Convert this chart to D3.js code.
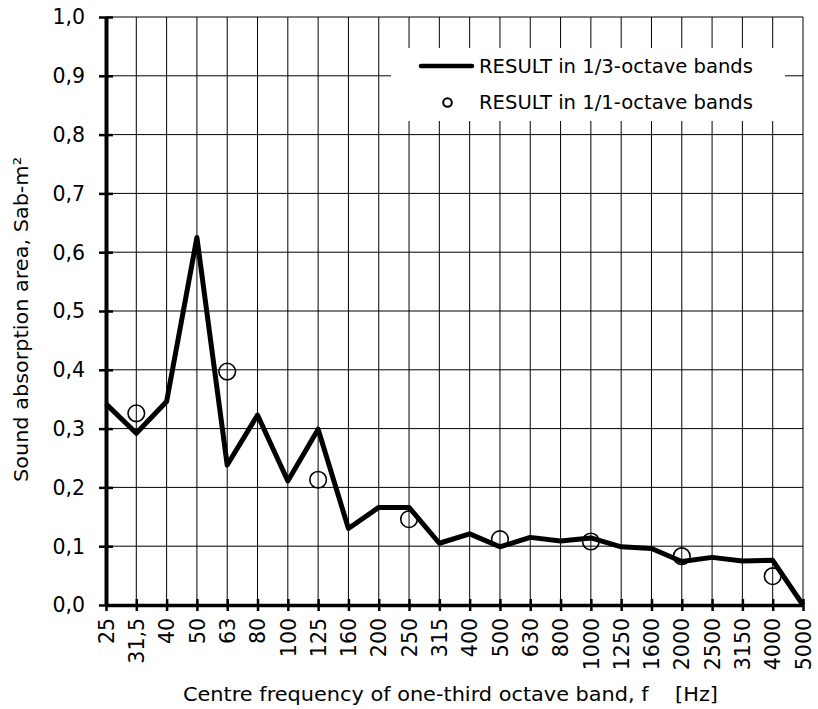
<!DOCTYPE html>
<html>
<head>
<meta charset="utf-8">
<script src="https://cdn.jsdelivr.net/npm/d3@7"></script>
<style>
  body { margin: 0; background: #fff; }
  text { font-family: Verdana, "DejaVu Sans", sans-serif; fill: #000; }
</style>
</head>
<body>
<div id="chart"></div>
<script>
// one-third octave band centre frequencies
const bands = ["25", "31,5", "40", "50", "63", "80", "100", "125", "160", "200", "250", "315",
  "400", "500", "630", "800", "1000", "1250", "1600", "2000", "2500", "3150", "4000", "5000"];

// RESULT in 1/3-octave bands
const thirdOctave = [0.342, 0.292, 0.346, 0.625, 0.238, 0.323, 0.211, 0.299, 0.130, 0.166, 0.166, 0.105,
  0.121, 0.099, 0.115, 0.109, 0.114, 0.099, 0.096, 0.074, 0.081, 0.075, 0.076, 0.0];

// RESULT in 1/1-octave bands
const octaveBands = ["31,5", "63", "125", "250", "500", "1000", "2000", "4000"];
const octave = [0.326, 0.397, 0.213, 0.146, 0.112, 0.108, 0.083, 0.049];

const yTicks = [0, 0.1, 0.2, 0.3, 0.4, 0.5, 0.6, 0.7, 0.8, 0.9, 1.0];

let margin = {top: 17, right: 15, bottom: 104, left: 106},
    width = 818 - margin.left - margin.right,
    height = 709 - margin.top - margin.bottom;

let x = d3.scalePoint()
  .domain(bands)
  .range([0, width]);

let y = d3.scaleLinear()
  .domain([0, 1])
  .range([height, 0]);

let fmt = d => d3.format(".1f")(d).replace(".", ",");

let svg = d3.select("#chart").append("svg")
  .attr("width", 818)
  .attr("height", 709)
  .append("g")
  .attr("transform", "translate(" + margin.left + "," + margin.top + ")");

// grid
svg.append("g").selectAll("line.h")
  .data(yTicks.slice(1))
  .join("line")
  .attr("x1", 0).attr("x2", width)
  .attr("y1", d => y(d)).attr("y2", d => y(d))
  .attr("stroke", "#000").attr("stroke-width", 1);

svg.append("g").selectAll("line.v")
  .data(bands.slice(1))
  .join("line")
  .attr("x1", d => x(d)).attr("x2", d => x(d))
  .attr("y1", 0).attr("y2", height)
  .attr("stroke", "#000").attr("stroke-width", 1);

// legend box covers the grid
let legend = svg.append("g");
legend.append("rect")
  .attr("x", 285).attr("y", 31)
  .attr("width", 394).attr("height", 73)
  .attr("fill", "#fff");
legend.append("line")
  .attr("x1", 315).attr("x2", 366)
  .attr("y1", 49).attr("y2", 49)
  .attr("stroke", "#000").attr("stroke-width", 4.5)
  .attr("stroke-linecap", "round");
legend.append("text")
  .attr("x", 373).attr("y", 55.5)
  .attr("font-size", 19)
  .attr("textLength", 274)
  .attr("lengthAdjust", "spacingAndGlyphs")
  .text("RESULT in 1/3-octave bands");
legend.append("circle")
  .attr("cx", 341.5).attr("cy", 85.5).attr("r", 4.3)
  .attr("fill", "none").attr("stroke", "#000").attr("stroke-width", 2);
legend.append("text")
  .attr("x", 373).attr("y", 92)
  .attr("font-size", 19)
  .attr("textLength", 274)
  .attr("lengthAdjust", "spacingAndGlyphs")
  .text("RESULT in 1/1-octave bands");

// axes
let xAxis = svg.append("g")
  .attr("transform", "translate(0," + height + ")")
  .call(d3.axisBottom(x).tickSizeOuter(0));
xAxis.select(".domain").attr("stroke-width", 3.5);
xAxis.selectAll(".tick line").attr("y1", -6).attr("y2", 6).attr("stroke-width", 2.5);
xAxis.selectAll("text")
  .attr("font-size", 20.5)
  .attr("font-family", null)
  .attr("y", 0)
  .attr("x", -13)
  .attr("dy", ".35em")
  .attr("transform", "rotate(-90)")
  .style("text-anchor", "end");

let yAxis = svg.append("g")
  .call(d3.axisLeft(y).tickValues(yTicks).tickFormat(fmt).tickSizeOuter(0));
yAxis.select(".domain").attr("stroke-width", 4);
yAxis.selectAll(".tick line").attr("x1", -7).attr("x2", 7).attr("stroke-width", 2.5);
yAxis.selectAll("text")
  .attr("font-size", 20.5)
  .attr("font-family", null)
  .attr("x", -21)
  .attr("dy", ".34em");

// data
let line = d3.line()
  .x((d, i) => x(bands[i]))
  .y(d => y(d));

svg.append("path")
  .attr("d", line(thirdOctave))
  .attr("fill", "none")
  .attr("stroke", "#000")
  .attr("stroke-width", 5)
  .attr("stroke-linejoin", "round");

svg.append("g").selectAll("circle")
  .data(octave)
  .join("circle")
  .attr("cx", (d, i) => x(octaveBands[i]))
  .attr("cy", d => y(d))
  .attr("r", 8.3)
  .attr("fill", "none")
  .attr("stroke", "#000")
  .attr("stroke-width", 1.6);

// axis titles
svg.append("text")
  .attr("x", 183 - margin.left)
  .attr("y", height + 96)
  .attr("font-size", 20)
  .attr("textLength", 535)
  .attr("lengthAdjust", "spacingAndGlyphs")
  .style("white-space", "pre")
  .text("Centre frequency of one-third octave band, f    [Hz]");

svg.append("text")
  .attr("transform", "translate(" + (28 - margin.left) + "," + (465) + ") rotate(-90)")
  .attr("font-size", 20)
  .attr("textLength", 325)
  .attr("lengthAdjust", "spacingAndGlyphs")
  .text("Sound absorption area, Sab-m²");
</script>
</body>
</html>
